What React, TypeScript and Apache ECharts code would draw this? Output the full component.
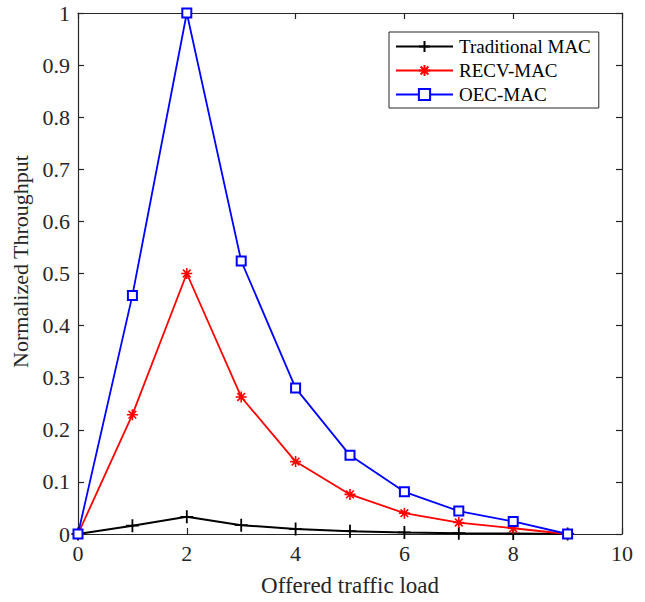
import React, { useEffect, useRef } from "react";
import * as echarts from "echarts";

const xValues = [0, 1, 2, 3, 4, 5, 6, 7, 8, 9];
const traditionalMac = [0, 0.016, 0.033, 0.017, 0.0095, 0.0055, 0.003, 0.0015, 0.0008, 0];
const recvMac = [0, 0.229, 0.5, 0.263, 0.139, 0.076, 0.04, 0.022, 0.011, 0];
const oecMac = [0, 0.458, 1.0, 0.524, 0.28, 0.151, 0.081, 0.044, 0.024, 0];
const seriesNames = ["Traditional MAC", "RECV-MAC", "OEC-MAC"];

const FONT = "Liberation Serif, serif";
const AXIS_COLOR = "#262626";

export default function App() {
  const ref = useRef<HTMLDivElement>(null);
  useEffect(() => {
    if (!ref.current) return;
    const chart = echarts.init(ref.current, undefined, { renderer: "svg" });
    const pair = (ys: number[]) => xValues.map((x, i) => [x, ys[i]]);
    const axisCommon = {
      axisLine: { show: true, onZero: false, lineStyle: { color: AXIS_COLOR, width: 1.2 } },
      axisTick: { show: true, inside: true, length: 6, lineStyle: { color: AXIS_COLOR, width: 1.2 } },
      splitLine: { show: false },
    };
    chart.setOption({
      animation: false,
      backgroundColor: "#fff",
      grid: { left: 78, right: 23, top: 13, bottom: 66 },
      legend: {
        orient: "vertical",
        left: 389,
        top: 32,
        padding: [5, 8, 4, 6],
        itemGap: 5,
        itemWidth: 57,
        itemHeight: 14,
        borderColor: AXIS_COLOR,
        borderWidth: 1,
        backgroundColor: "#fff",
        textStyle: { fontFamily: FONT, fontSize: 19, color: "#000", padding: [0, 0, 0, 1] },
        data: seriesNames,
      },
      xAxis: [
        {
          type: "value",
          min: 0,
          max: 10,
          interval: 2,
          position: "bottom",
          name: "Offered traffic load",
          nameLocation: "middle",
          nameGap: 40,
          nameTextStyle: { fontFamily: FONT, fontSize: 23, color: "#262626" },
          axisLabel: { fontFamily: FONT, fontSize: 22, color: "#262626", margin: 8 },
          ...axisCommon,
        },
        {
          type: "value",
          min: 0,
          max: 10,
          interval: 2,
          position: "top",
          axisLabel: { show: false },
          ...axisCommon,
        },
      ],
      yAxis: [
        {
          type: "value",
          min: 0,
          max: 1,
          interval: 0.1,
          position: "left",
          name: "Normalized Throughput",
          nameLocation: "middle",
          nameGap: 44,
          nameTextStyle: { fontFamily: FONT, fontSize: 22, color: "#262626", padding: [0, 0, 0, 24] },
          axisLabel: { fontFamily: FONT, fontSize: 22, color: "#262626", margin: 8 },
          ...axisCommon,
        },
        {
          type: "value",
          min: 0,
          max: 1,
          interval: 0.1,
          position: "right",
          axisLabel: { show: false },
          ...axisCommon,
        },
      ],
      series: [
        {
          name: seriesNames[0],
          type: "line",
          data: pair(traditionalMac),
          symbol: "path://M0,-1L0,1M-1,0L1,0",
          symbolSize: 13,
          lineStyle: { color: "#000", width: 2 },
          itemStyle: { color: "#000", borderColor: "#000", borderWidth: 1.8 },
          z: 3,
        },
        {
          name: seriesNames[1],
          type: "line",
          data: pair(recvMac),
          symbol: "path://M0,-1L0,1M-1,0L1,0M-0.7,-0.7L0.7,0.7M-0.7,0.7L0.7,-0.7",
          symbolSize: 11,
          lineStyle: { color: "#ff0000", width: 1.8 },
          itemStyle: { color: "#ff0000", borderColor: "#ff0000", borderWidth: 1.6 },
          z: 4,
        },
        {
          name: seriesNames[2],
          type: "line",
          data: pair(oecMac),
          symbol: "emptyRect",
          symbolSize: 9,
          lineStyle: { color: "#0000ff", width: 1.8 },
          itemStyle: { color: "#0000ff", borderColor: "#0000ff", borderWidth: 1.6 },
          z: 5,
        },
      ],
    });
    return () => chart.dispose();
  }, []);
  return (
    <div
      ref={ref}
      style={{ position: "fixed", left: 0, top: 0, width: 645, height: 602, background: "#fff" }}
    />
  );
}
